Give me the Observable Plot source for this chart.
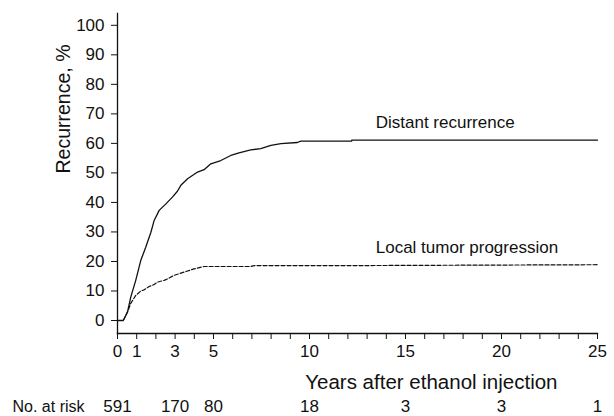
<!DOCTYPE html>
<html>
<head>
<meta charset="utf-8">
<script src="https://cdn.jsdelivr.net/npm/d3@7"></script>
<script src="https://cdn.jsdelivr.net/npm/@observablehq/plot@0.6"></script>
<style>
  html, body { margin: 0; padding: 0; background: #fff; }
</style>
</head>
<body>
<div id="chart"></div>
<script>
// Distant recurrence (solid)
const distantYears = [0, 0.3, 0.52, 0.69, 0.95, 1.21, 1.47, 1.74, 1.91, 2.17, 2.52, 2.86, 3.12, 3.3, 3.65, 4.17, 4.51, 4.86, 5.38, 5.9, 6.33, 6.94, 7.46, 7.99, 8.51, 9.37, 9.55, 12.2, 12.2, 25];
const distantValues = [0, 0, 2.8, 7.9, 13.6, 20.3, 24.8, 29.9, 33.9, 37.3, 39.5, 41.8, 43.8, 45.8, 48.0, 50.3, 51.1, 53.1, 54.2, 55.9, 56.8, 57.8, 58.2, 59.3, 59.9, 60.3, 60.8, 60.8, 61.1, 61.1];
// Local tumor progression (dashed)
const localYears = [0, 0.3, 0.45, 0.55, 0.69, 0.95, 1.04, 1.21, 1.39, 1.65, 1.91, 2.08, 2.43, 2.6, 2.95, 3.47, 3.99, 4.51, 6.94, 7.12, 12.2, 25];
const localValues = [0, 0, 2.0, 3.4, 5.8, 8.5, 9.0, 10.0, 10.4, 11.5, 12.2, 13.0, 13.6, 14.1, 15.3, 16.4, 17.5, 18.3, 18.3, 18.6, 18.6, 18.9];

const yTicks = [0, 10, 20, 30, 40, 50, 60, 70, 80, 90, 100];
const xTicks = d3.range(0, 26);
const xTickLabels = [0, 1, 3, 5, 10, 15, 20, 25];

const atRiskYears = [0, 3, 5, 10, 15, 20, 25];
const atRiskCounts = [591, 170, 80, 18, 3, 3, 1];

const seriesLabels = ["Distant recurrence", "Local tumor progression"];
const labelYears = [13.45, 13.45];
const labelValues = [65.1, 22.9];

const distant = distantYears.map((x, i) => ({year: x, value: distantValues[i]}));
const local = localYears.map((x, i) => ({year: x, value: localValues[i]}));
const atRisk = atRiskYears.map((x, i) => ({year: x, n: atRiskCounts[i]}));
const labels = seriesLabels.map((t, i) => ({text: t, year: labelYears[i], value: labelValues[i]}));
const labelSet = new Set(xTickLabels);

const ink = "#111";

const chart = Plot.plot({
  width: 614,
  height: 416,
  marginTop: 13,
  marginBottom: 83,
  marginLeft: 117,
  marginRight: 17,
  x: {domain: [0, 25]},
  y: {domain: [-4.4, 104]},
  style: {fontFamily: "'Liberation Sans', Arial, Helvetica, sans-serif", fontSize: "17px", color: ink, background: "#fff"},
  marks: [
    Plot.frame({anchor: "left", stroke: ink, strokeWidth: 1.3}),
    Plot.frame({anchor: "bottom", stroke: ink, strokeWidth: 1.3}),
    Plot.axisY(yTicks, {tickSize: 6, tickPadding: 7, label: null, fontSize: 17}),
    Plot.axisX(xTicks, {tickSize: 6, tickPadding: 5, label: null, fontSize: 17, tickFormat: d => labelSet.has(d) ? String(d) : ""}),
    Plot.line(distant, {x: "year", y: "value", stroke: ink, strokeWidth: 1.3}),
    Plot.line(local, {x: "year", y: "value", stroke: ink, strokeWidth: 1.2, strokeDasharray: "4,2"}),
    Plot.text(labels, {x: "year", y: "value", text: "text", textAnchor: "start", lineAnchor: "bottom", fontSize: 17, fill: ink}),
    Plot.text(["Recurrence, %"], {frameAnchor: "left", dx: -54, rotate: -90, fontSize: 19.5, fill: ink}),
    Plot.text(["Years after ethanol injection"], {frameAnchor: "bottom-right", textAnchor: "end", lineAnchor: "bottom", dx: -40, dy: 55, fontSize: 20.5, fill: ink}),
    Plot.text(atRisk, {x: "year", text: "n", frameAnchor: "bottom", lineAnchor: "bottom", dy: 78, fontSize: 17, fill: ink}),
    Plot.text(["No. at risk"], {frameAnchor: "bottom-left", textAnchor: "start", lineAnchor: "bottom", dx: -105, dy: 78, fontSize: 16, fill: ink})
  ]
});
document.getElementById("chart").appendChild(chart);
</script>
</body>
</html>
